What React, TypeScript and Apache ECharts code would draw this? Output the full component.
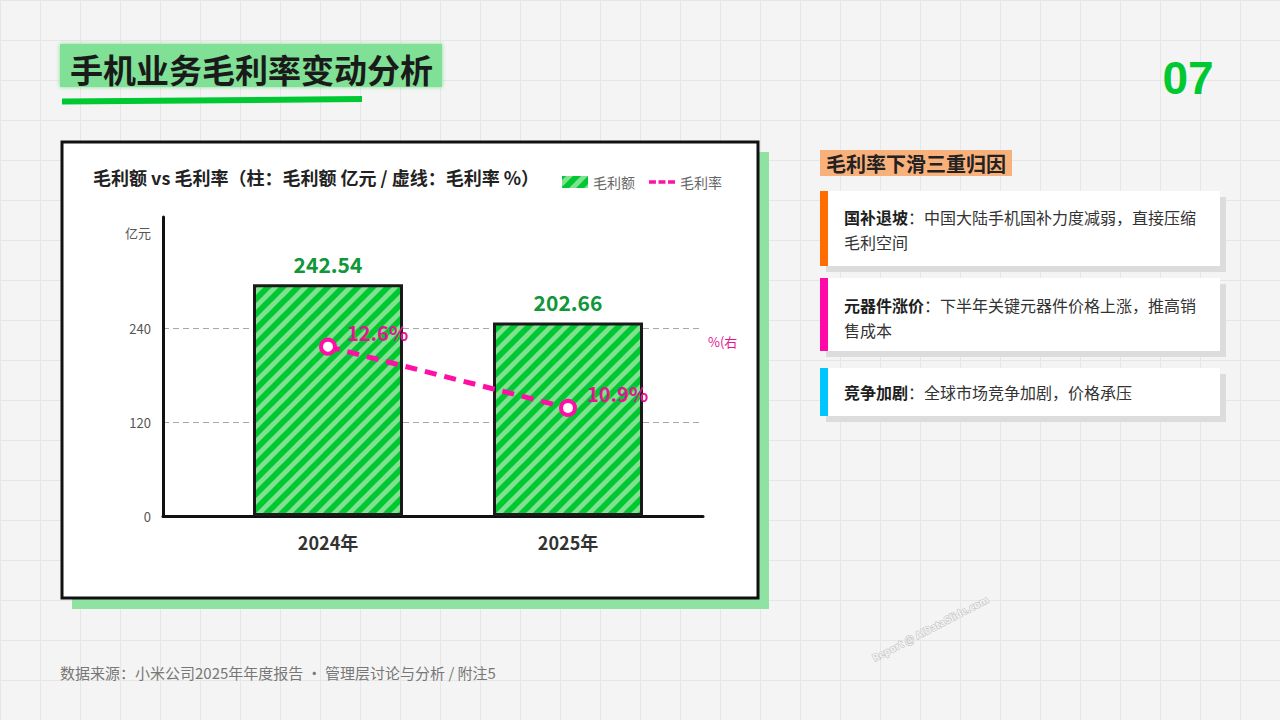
import React, { useEffect, useRef } from 'react';
import * as echarts from 'echarts';

const categories = ['2024年', '2025年'];
const grossProfit = [242.54, 202.66];
const grossMargin = [12.6, 10.9];
const leftAxisTicks = [0, 120, 240];
const causeTitles = ['国补退坡', '元器件涨价', '竞争加剧'];
const causeLines = [
  ['：中国大陆手机国补力度减弱，直接压缩', '毛利空间'],
  ['：下半年关键元器件价格上涨，推高销', '售成本'],
  ['：全球市场竞争加剧，价格承压'],
];

const FONT = '"Noto Sans CJK SC", "Noto Sans", sans-serif';
const PINK = '#ff0fa5';
const PINK_TEXT = '#e3168f';
const GREEN_DARK = '#00c832';
const GREEN_LIGHT = '#80e18f';
const TILE = 15;

function stripeUrl(): string {
  const s = TILE;
  const w = ((s / Math.SQRT2) * 0.55).toFixed(2);
  const svg =
    `<svg xmlns="http://www.w3.org/2000/svg" width="${s}" height="${s}" viewBox="0 0 ${s} ${s}">` +
    `<rect width="${s}" height="${s}" fill="${GREEN_LIGHT}"/>` +
    `<path d="M${-s},${s} L0,0 M0,${s} L${s},0 M${s},${s} L${2 * s},0" stroke="${GREEN_DARK}" stroke-width="${w}" stroke-linecap="square"/>` +
    `</svg>`;
  return 'data:image/svg+xml;charset=utf-8,' + encodeURIComponent(svg);
}

export default function App() {
  const ref = useRef<HTMLDivElement>(null);
  useEffect(() => {
    if (!ref.current) return;
    const chart = echarts.init(ref.current, undefined, { renderer: 'svg' });
    const pattern: any = { image: stripeUrl(), repeat: 'repeat', imageWidth: TILE, imageHeight: TILE };

    const cards = [
      { y: 191, h: 75, color: '#ff6d00', textY: 204.5 },
      { y: 278, h: 73, color: '#ff0aa8', textY: 292.5 },
      { y: 368, h: 48, color: '#00c6ff', textY: 379.5 },
    ];
    const cardEls: any[] = [];
    cards.forEach((c, i) => {
      cardEls.push({ type: 'rect', z: -5, shape: { x: 826, y: c.y + 6, width: 400, height: c.h }, style: { fill: '#dcdcdc' } });
      cardEls.push({ type: 'rect', z: -4, shape: { x: 828, y: c.y, width: 392, height: c.h }, style: { fill: '#ffffff' } });
      cardEls.push({ type: 'rect', z: -4, shape: { x: 820, y: c.y, width: 8, height: c.h }, style: { fill: c.color } });
      const txt = causeLines[i].map((l, j) => (j === 0 ? `{b|${causeTitles[i]}}{n|${l}}` : `{n|${l}}`)).join('\n');
      cardEls.push({
        type: 'text', x: 844, y: c.textY,
        style: {
          text: txt, verticalAlign: 'top', align: 'left',
          fontFamily: FONT, fontSize: 16, fill: '#333',
          rich: {
            b: { fontFamily: FONT, fontSize: 16, fontWeight: 'bold', fill: '#1e1e1e', lineHeight: 25 },
            n: { fontFamily: FONT, fontSize: 16, fill: '#333', lineHeight: 25 },
          },
        },
      });
    });

    const option: any = {
      animation: false,
      textStyle: { fontFamily: FONT },
      legend: {
        left: 557, top: 170, itemWidth: 26, itemHeight: 12, itemGap: 14,
        textStyle: { fontSize: 14, color: '#666', fontFamily: FONT },
        data: [
          { name: '毛利额', icon: 'rect', itemStyle: { borderWidth: 0 } },
          {
            name: '毛利率',
            icon: 'path://M0,0 M30,12 M0,4h8v4h-8z M11,4h8v4h-8z M22,4h8v4h-8z',
            itemStyle: { color: PINK, borderWidth: 0 },
          },
        ],
      },
      grid: [
        { left: 163, top: 217, width: 540, height: 299 },
        { left: 208, top: 217, width: 480, height: 299 },
      ],
      xAxis: [
        {
          type: 'category', gridIndex: 0, data: categories,
          axisLine: { lineStyle: { color: '#111', width: 3 } },
          axisTick: { show: false }, axisLabel: { show: false },
        },
        {
          type: 'category', gridIndex: 1, data: categories,
          axisLine: { show: false }, axisTick: { show: false },
          axisLabel: { margin: 17, fontSize: 18, fontWeight: 'bold', color: '#333', fontFamily: FONT },
        },
      ],
      yAxis: [
        {
          type: 'value', gridIndex: 0, min: 0, max: 383, interval: 120,
          axisLine: { show: true, lineStyle: { color: '#111', width: 3 } },
          axisTick: { show: false },
          axisLabel: {
            margin: 12, fontSize: 13, color: '#555', fontFamily: FONT,
            formatter: (v: number) => (leftAxisTicks.includes(v) ? String(v) : ''),
          },
          splitLine: {
            show: true,
            lineStyle: { type: [6, 4], width: 1, color: ['transparent', '#a8a8a8', '#a8a8a8', 'transparent', 'transparent'] },
          },
        },
        { type: 'value', gridIndex: 1, min: 0, max: 313, show: false, splitLine: { show: false } },
        { type: 'value', gridIndex: 1, min: 7.9, max: 16.2, show: false, splitLine: { show: false } },
      ],
      series: [
        {
          name: '毛利额', type: 'bar', xAxisIndex: 1, yAxisIndex: 1, data: grossProfit, barWidth: 150,
          itemStyle: { color: pattern, borderColor: '#1a1a1a', borderWidth: 3 },
          label: {
            show: true, position: 'top', distance: 10, fontSize: 21, fontWeight: 'bold',
            color: '#10973a', fontFamily: FONT,
          },
        },
        {
          name: '毛利率', type: 'line', xAxisIndex: 1, yAxisIndex: 2, data: grossMargin,
          symbol: 'circle', symbolSize: 14, z: 5,
          itemStyle: { color: '#ffffff', borderColor: PINK, borderWidth: 4 },
          lineStyle: { color: PINK, width: 5, type: [12, 8] },
          label: {
            show: true, position: 'right', distance: 10, offset: [0, -14], formatter: '{c}%',
            fontSize: 20, fontWeight: 'bold', color: PINK_TEXT, fontFamily: FONT,
          },
        },
      ],
      graphic: [
        // page title
        { type: 'rect', z: -5, shape: { x: 60, y: 44, width: 382, height: 43 }, style: { fill: '#80e095', shadowBlur: 4, shadowColor: '#80e095' } },
        { type: 'text', x: 70, y: 69, style: { text: '手机业务毛利率变动分析', fontFamily: FONT, fontSize: 33, fontWeight: 'bold', fill: '#1a1a1a', verticalAlign: 'middle', align: 'left' } },
        { type: 'polygon', shape: { points: [[62, 98.5], [362, 96], [362, 102], [62, 104.5]] }, style: { fill: GREEN_DARK } },
        { type: 'text', x: 1188, y: 78, style: { text: '07', fontFamily: '"Liberation Sans", Arial, sans-serif', fontSize: 46, fontWeight: 'bold', fill: GREEN_DARK, align: 'center', verticalAlign: 'middle' } },
        // chart card
        { type: 'rect', z: -10, shape: { x: 72, y: 152, width: 697, height: 457 }, style: { fill: '#8fe3a2' } },
        { type: 'rect', z: -9, shape: { x: 62, y: 142, width: 696, height: 456 }, style: { fill: '#ffffff', stroke: '#111', lineWidth: 3 } },
        { type: 'text', x: 93, y: 177, style: { text: '毛利额 vs 毛利率（柱：毛利额 亿元 / 虚线：毛利率 %）', fontFamily: FONT, fontSize: 18, fontWeight: 'bold', fill: '#222', verticalAlign: 'middle', align: 'left' } },
        { type: 'text', x: 151, y: 232, style: { text: '亿元', fontFamily: FONT, fontSize: 13, fill: '#555', verticalAlign: 'middle', align: 'right' } },
        { type: 'text', x: 708, y: 341, style: { text: '%(右', fontFamily: FONT, fontSize: 13, fill: PINK_TEXT, verticalAlign: 'middle', align: 'left' } },
        // right panel
        { type: 'rect', z: -5, shape: { x: 820, y: 150, width: 192, height: 26 }, style: { fill: '#f9b17c' } },
        { type: 'text', x: 826, y: 163, style: { text: '毛利率下滑三重归因', fontFamily: FONT, fontSize: 20, fontWeight: 'bold', fill: '#222', verticalAlign: 'middle', align: 'left' } },
        ...cardEls,
        // footer
        { type: 'text', x: 60, y: 672, style: { text: '数据来源：小米公司2025年年度报告 · 管理层讨论与分析 / 附注5', fontFamily: FONT, fontSize: 15, fill: '#777', verticalAlign: 'middle', align: 'left' } },
        // watermark
        { type: 'text', x: 930, y: 628, rotation: 0.48, style: { text: 'Report @ AIDataSlide.com', fontFamily: FONT, fontSize: 10, fontWeight: 'bold', fill: '#f4f4f4', stroke: '#bdbdbd', lineWidth: 1, align: 'center', verticalAlign: 'middle' } },
      ],
    };
    chart.setOption(option);
    return () => chart.dispose();
  }, []);

  return (
    <div
      ref={ref}
      style={{
        position: 'fixed', left: 0, top: 0, width: 1280, height: 720,
        backgroundColor: '#f4f4f4',
        backgroundImage: 'linear-gradient(#e6e6e6 1px, transparent 1px), linear-gradient(90deg, #e6e6e6 1px, transparent 1px)',
        backgroundSize: '40px 40px',
      }}
    />
  );
}
